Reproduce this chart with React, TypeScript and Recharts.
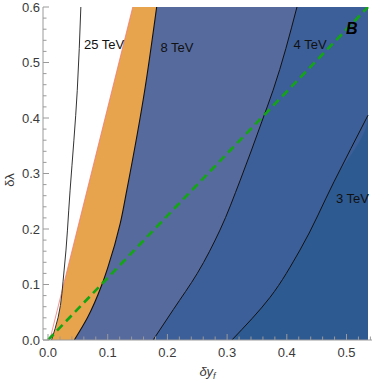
import React from 'react';
import { ComposedChart, Area, Line, XAxis, YAxis, ReferenceDot } from 'recharts';

type Pt = [number, number]; // [δy_f, δλ]

// Contour / boundary curves
const contour25TeV: Pt[] = [[0.006, 0], [0.017, 0.041], [0.027, 0.126], [0.037, 0.27], [0.049, 0.45], [0.055, 0.6]];
const redBoundary: Pt[] = [[0.003, 0], [0.142, 0.6]];
const contour8TeV: Pt[] = [[0.044, 0], [0.066, 0.04], [0.09, 0.099], [0.1, 0.13], [0.121, 0.21], [0.132, 0.27], [0.162, 0.45], [0.182, 0.6]];
const contour4TeV: Pt[] = [[0.176, 0], [0.21, 0.055], [0.25, 0.12], [0.288, 0.198], [0.322, 0.288], [0.358, 0.393], [0.377, 0.45], [0.417, 0.6]];
const contour3TeV: Pt[] = [[0.308, 0], [0.372, 0.077], [0.422, 0.162], [0.479, 0.285], [0.536, 0.405]];
const lineB: Pt[] = [[0, 0], [0.536, 0.6]];

const xMajorTicks = [0, 0.1, 0.2, 0.3, 0.4, 0.5];
const xMinorTicks = [0.02, 0.04, 0.06, 0.08, 0.12, 0.14, 0.16, 0.18, 0.22, 0.24, 0.26, 0.28, 0.32, 0.34, 0.36, 0.38, 0.42, 0.44, 0.46, 0.48, 0.52, 0.54];
const yMajorTicks = [0, 0.1, 0.2, 0.3, 0.4, 0.5, 0.6];
const yMinorTicks = [0.02, 0.04, 0.06, 0.08, 0.12, 0.14, 0.16, 0.18, 0.22, 0.24, 0.26, 0.28, 0.32, 0.34, 0.36, 0.38, 0.42, 0.44, 0.46, 0.48, 0.52, 0.54, 0.56, 0.58];

const contourLabels = [
  { text: '25 TeV', x: 0.094, y: 0.533 },
  { text: '8 TeV', x: 0.216, y: 0.528 },
  { text: '4 TeV', x: 0.439, y: 0.532 },
  { text: '3 TeV', x: 0.51, y: 0.256 },
];
const benchmarkLabel = { text: 'B', x: 0.509, y: 0.562 };

const X_MIN = -0.0084;
const X_MAX = 0.5427;
const FILL_X_MAX = 0.536;
const Y_MIN = 0;
const Y_MAX = 0.6;

const FRAME = '#9a9a9a';
const TEXT = '#3a3a3a';
const FONT = '"Liberation Sans", Arial, sans-serif';
const C_DARK = '#2e5a92';
const C_MID = '#3c5f99';
const C_LIGHT = '#566a9e';
const C_ORANGE = '#e8a34d';

const allCurves = [contour25TeV, redBoundary, contour8TeV, contour4TeV, contour3TeV, lineB];
const yValues = Array.from(new Set(allCurves.flatMap((c) => c.map((p) => p[1])))).sort((a, b) => a - b);
const rows = yValues.map((y) => ({ y }));

const at = (curve: Pt[], y: number): number | undefined => {
  const p = curve.find((q) => q[1] === y);
  return p ? p[0] : undefined;
};
const last3 = contour3TeV[contour3TeV.length - 1][1];
const leftOf3 = (r: { y: number }) => {
  const v = at(contour3TeV, r.y);
  if (v !== undefined) return v;
  return r.y > last3 ? FILL_X_MAX : undefined;
};

const isMajor = (v: number) => Math.abs(v * 10 - Math.round(v * 10)) < 1e-6;
const allX = [...xMajorTicks, ...xMinorTicks].sort((a, b) => a - b);
const allY = [...yMajorTicks, ...yMinorTicks].sort((a, b) => a - b);

function BottomTick(props: any) {
  const { x, y, payload } = props;
  const v = payload.value as number;
  const major = isMajor(v);
  return (
    <g>
      <line x1={x} y1={y} x2={x} y2={y - (major ? 6 : 3.5)} stroke={FRAME} strokeWidth={1} />
      {major && (
        <text x={x} y={y + 16.5} textAnchor="middle" fontSize={13} fontFamily={FONT} fill={TEXT}>
          {v.toFixed(1)}
        </text>
      )}
    </g>
  );
}
function TopTick(props: any) {
  const { x, y, payload } = props;
  const major = isMajor(payload.value);
  return <line x1={x} y1={y} x2={x} y2={y + (major ? 6 : 3.5)} stroke={FRAME} strokeWidth={1} />;
}
function LeftTick(props: any) {
  const { x, y, payload } = props;
  const v = payload.value as number;
  const major = isMajor(v);
  return (
    <g>
      <line x1={x} y1={y} x2={x + (major ? 6 : 3.5)} y2={y} stroke={FRAME} strokeWidth={1} />
      {major && (
        <text x={x - 3} y={y + 4.6} textAnchor="end" fontSize={13} fontFamily={FONT} fill={TEXT}>
          {v.toFixed(1)}
        </text>
      )}
    </g>
  );
}
function RightTick(props: any) {
  const { x, y, payload } = props;
  const major = isMajor(payload.value);
  return <line x1={x} y1={y} x2={x - (major ? 6 : 3.5)} y2={y} stroke={FRAME} strokeWidth={1} />;
}

export default function App() {
  return (
    <div style={{ position: 'absolute', left: 0, top: 0 }}>
      <ComposedChart
        width={375}
        height={381}
        data={rows}
        layout="vertical"
        margin={{ top: 7, right: 3, bottom: 0, left: 0 }}
      >
        <XAxis
          xAxisId="b"
          type="number"
          orientation="bottom"
          domain={[X_MIN, X_MAX]}
          allowDataOverflow
          ticks={allX}
          interval={0}
          tickSize={0}
          tickMargin={0}
          tickLine={false}
          axisLine={{ stroke: FRAME }}
          tick={<BottomTick />}
          height={41}
          label={(p: any) => {
            const vb = p.viewBox;
            const cx = vb.x + vb.width / 2;
            return (
              <text x={cx} y={vb.y + 36} textAnchor="middle" fontSize={13} fontFamily={FONT} fill={TEXT} fontStyle="italic">
                δy<tspan fontSize={9} dy={3}>f</tspan>
              </text>
            );
          }}
        />
        <XAxis
          xAxisId="t"
          type="number"
          orientation="top"
          domain={[X_MIN, X_MAX]}
          allowDataOverflow
          ticks={allX}
          interval={0}
          tickSize={0}
          tickMargin={0}
          tickLine={false}
          axisLine={{ stroke: FRAME }}
          tick={<TopTick />}
          height={0}
        />
        <YAxis
          yAxisId="l"
          type="number"
          dataKey="y"
          orientation="left"
          domain={[Y_MIN, Y_MAX]}
          allowDataOverflow
          reversed
          ticks={allY}
          interval={0}
          tickSize={0}
          tickMargin={0}
          tickLine={false}
          axisLine={{ stroke: FRAME }}
          tick={<LeftTick />}
          width={43}
          label={() => (
            <text x={14} y={180} transform="rotate(-90, 14, 180)" textAnchor="middle" fontSize={13} fontFamily={FONT} fill={TEXT}>
              δλ
            </text>
          )}
        />
        <YAxis
          yAxisId="r"
          type="number"
          dataKey="y"
          orientation="right"
          domain={[Y_MIN, Y_MAX]}
          allowDataOverflow
          reversed
          ticks={allY}
          interval={0}
          tickSize={0}
          tickMargin={0}
          tickLine={false}
          axisLine={{ stroke: FRAME }}
          tick={<RightTick />}
          width={0}
        />

        <Area xAxisId="b" yAxisId="l" dataKey={() => FILL_X_MAX} baseValue="dataMin" type="linear" stroke="none" fill={C_DARK} fillOpacity={1} connectNulls isAnimationActive={false} />
        <Area xAxisId="b" yAxisId="l" dataKey={leftOf3} baseValue="dataMin" type="monotone" stroke="none" fill={C_MID} fillOpacity={1} connectNulls isAnimationActive={false} />
        <Area xAxisId="b" yAxisId="l" dataKey={(r: any) => at(contour4TeV, r.y)} baseValue="dataMin" type="monotone" stroke="none" fill={C_LIGHT} fillOpacity={1} connectNulls isAnimationActive={false} />
        <Area xAxisId="b" yAxisId="l" dataKey={(r: any) => at(contour8TeV, r.y)} baseValue="dataMin" type="monotone" stroke="none" fill={C_ORANGE} fillOpacity={1} connectNulls isAnimationActive={false} />
        <Area xAxisId="b" yAxisId="l" dataKey={(r: any) => at(redBoundary, r.y)} baseValue="dataMin" type="linear" stroke="none" fill="#ffffff" fillOpacity={1} connectNulls isAnimationActive={false} />
        <Area xAxisId="b" yAxisId="l" dataKey={(r: any) => at(contour25TeV, r.y)} baseValue="dataMin" type="monotone" stroke="none" fill="#ffffff" fillOpacity={1} connectNulls isAnimationActive={false} />

        <Line xAxisId="b" yAxisId="l" dataKey={(r: any) => at(redBoundary, r.y)} type="linear" stroke="#f07a7a" strokeWidth={0.8} dot={false} activeDot={false} connectNulls isAnimationActive={false} />
        <Line xAxisId="b" yAxisId="l" dataKey={(r: any) => at(contour25TeV, r.y)} type="monotone" stroke="#333" strokeWidth={1} dot={false} activeDot={false} connectNulls isAnimationActive={false} />
        <Line xAxisId="b" yAxisId="l" dataKey={(r: any) => at(contour8TeV, r.y)} type="monotone" stroke="#111" strokeWidth={1.1} dot={false} activeDot={false} connectNulls isAnimationActive={false} />
        <Line xAxisId="b" yAxisId="l" dataKey={(r: any) => at(contour4TeV, r.y)} type="monotone" stroke="#111" strokeWidth={1} dot={false} activeDot={false} connectNulls isAnimationActive={false} />
        <Line xAxisId="b" yAxisId="l" dataKey={(r: any) => at(contour3TeV, r.y)} type="monotone" stroke="#111" strokeWidth={1} dot={false} activeDot={false} connectNulls isAnimationActive={false} />
        <Line xAxisId="b" yAxisId="l" dataKey={(r: any) => at(lineB, r.y)} type="linear" stroke="#14a514" strokeWidth={2.6} strokeDasharray="8 5" dot={false} activeDot={false} connectNulls isAnimationActive={false} />

        {contourLabels.map((l) => (
          <ReferenceDot
            key={l.text}
            xAxisId="b"
            yAxisId="l"
            x={l.x}
            y={l.y}
            r={0}
            fill="none"
            stroke="none"
            label={{ value: l.text, position: 'center', fill: '#111', fontSize: 13, fontFamily: FONT }}
          />
        ))}
        <ReferenceDot
          xAxisId="b"
          yAxisId="l"
          x={benchmarkLabel.x}
          y={benchmarkLabel.y}
          r={0}
          fill="none"
          stroke="none"
          label={{ value: benchmarkLabel.text, position: 'center', fill: '#000', fontSize: 16, fontFamily: FONT, fontWeight: 'bold', fontStyle: 'italic' }}
        />
      </ComposedChart>
    </div>
  );
}
